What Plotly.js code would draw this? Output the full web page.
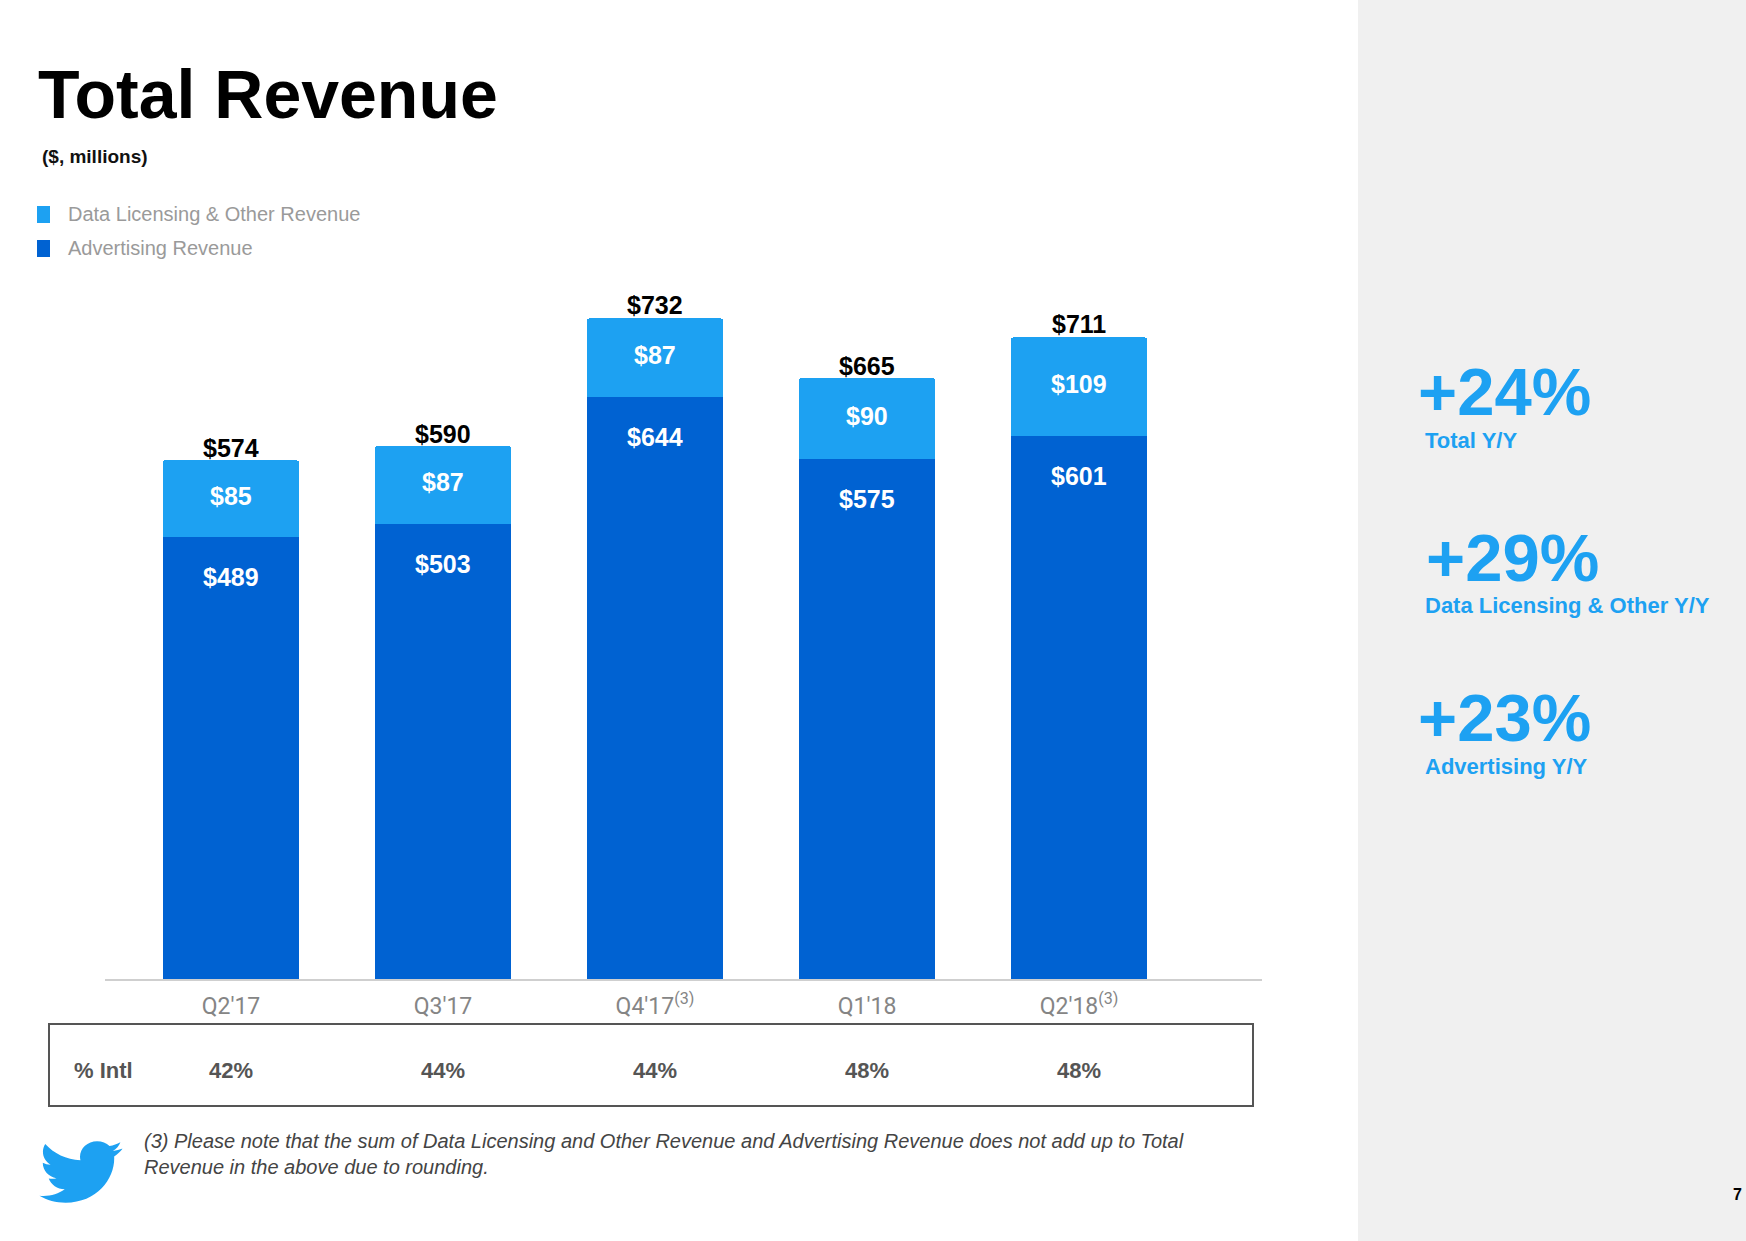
<!DOCTYPE html>
<html>
<head>
<meta charset="utf-8">
<script src="https://cdn.plot.ly/plotly-3.0.1.min.js"></script>
<style>
html,body{margin:0;padding:0;background:#fff;}
#chart{width:1746px;height:1241px;}
</style>
</head>
<body>
<div id="chart"></div>
<script>
// ---- Data ----
const categories = ["Q2'17", "Q3'17", "Q4'17", "Q1'18", "Q2'18"];
const tickLabels = ["Q2'17", "Q3'17", "Q4'17<sup>(3)</sup>", "Q1'18", "Q2'18<sup>(3)</sup>"];
const advertising = [489, 503, 644, 575, 601];
const dataLicensing = [85, 87, 87, 90, 109];
const totals = [574, 590, 732, 665, 711];
const intlShare = ["42%", "44%", "44%", "48%", "48%"];
const yoyValues = ["+24%", "+29%", "+23%"];
const yoyLabels = ["Total Y/Y", "Data Licensing & Other Y/Y", "Advertising Y/Y"];
const seriesNames = ["Data Licensing & Other Revenue", "Advertising Revenue"];

// ---- Layout helpers (pixel -> paper) ----
const W = 1746, H = 1241;
const M = {l: 105, r: 484, t: 256, b: 262};
const PW = W - M.l - M.r, PH = H - M.t - M.b;
const px = x => (x - M.l) / PW;
const py = y => (H - M.b - y) / PH;

const LIGHT = '#1da1f2';
const DARK = '#0062d2';
const FONT = 'Liberation Sans, Arial, sans-serif';

const traces = [
  {
    type: 'bar', x: categories, y: advertising, name: seriesNames[1],
    marker: {color: DARK}, hoverinfo: 'skip', showlegend: false
  },
  {
    type: 'bar', x: categories, y: dataLicensing, name: seriesNames[0],
    marker: {color: LIGHT, cornerradius: 3}, hoverinfo: 'skip', showlegend: false
  }
];

const annotations = [];
categories.forEach((c, i) => {
  annotations.push({x: c, y: totals[i], xref: 'x', yref: 'y', text: '<b>$' + totals[i] + '</b>',
    showarrow: false, yanchor: 'middle', yshift: 12,
    font: {family: FONT, size: 25, color: '#000'}});
  annotations.push({x: c, y: advertising[i] + dataLicensing[i] / 2, xref: 'x', yref: 'y',
    text: '<b>$' + dataLicensing[i] + '</b>', showarrow: false, yanchor: 'middle', yshift: 3,
    font: {family: FONT, size: 25, color: '#fff'}});
  annotations.push({x: c, y: advertising[i], xref: 'x', yref: 'y',
    text: '<b>$' + advertising[i] + '</b>', showarrow: false, yanchor: 'middle', yshift: -40,
    font: {family: FONT, size: 25, color: '#fff'}});
  annotations.push({x: c, y: py(1070), xref: 'x', yref: 'paper',
    text: '<b>' + intlShare[i] + '</b>', showarrow: false, yanchor: 'middle',
    font: {family: FONT, size: 22, color: '#555'}});
});
annotations.push({x: px(103), y: py(1070), xref: 'paper', yref: 'paper', text: '<b>% Intl</b>',
  showarrow: false, xanchor: 'center', yanchor: 'middle', font: {family: FONT, size: 22, color: '#555'}});

// subtitle
annotations.push({x: px(40), y: py(156), xref: 'paper', yref: 'paper', text: '<b>($, millions)</b>',
  showarrow: false, xanchor: 'left', yanchor: 'middle', font: {family: FONT, size: 19, color: '#111'}});

// legend (manual)
const legendY = [214, 248];
const legendColors = [LIGHT, DARK];
const shapes = [];
seriesNames.forEach((n, i) => {
  annotations.push({x: px(66), y: py(legendY[i]), xref: 'paper', yref: 'paper', text: n,
    showarrow: false, xanchor: 'left', yanchor: 'middle', font: {family: FONT, size: 20, color: '#9a9a9a'}});
  shapes.push({type: 'rect', xref: 'paper', yref: 'paper', x0: px(37), x1: px(50),
    y0: py(legendY[i] - 8), y1: py(legendY[i] + 9), fillcolor: legendColors[i], line: {width: 0}});
});

// right panel
shapes.push({type: 'rect', xref: 'paper', yref: 'paper', layer: 'below',
  x0: px(1358), x1: px(W + 2), y0: py(-2), y1: py(H + 2), fillcolor: '#f0f0f0', line: {width: 0}});
const yoyCenters = [391, 557, 717];
const yoyLabelY = [440, 605, 766];
const yoyX = [1416, 1424, 1416];
yoyValues.forEach((v, i) => {
  annotations.push({x: px(yoyX[i]), y: py(yoyCenters[i]), xref: 'paper', yref: 'paper', text: '<b>' + v + '</b>',
    showarrow: false, xanchor: 'left', yanchor: 'middle', font: {family: FONT, size: 67, color: LIGHT}});
  annotations.push({x: px(1423), y: py(yoyLabelY[i]), xref: 'paper', yref: 'paper', text: '<b>' + yoyLabels[i] + '</b>',
    showarrow: false, xanchor: 'left', yanchor: 'middle', font: {family: FONT, size: 22, color: LIGHT}});
});

// table box
shapes.push({type: 'rect', xref: 'paper', yref: 'paper', x0: px(49), x1: px(1253), y0: py(1024), y1: py(1106),
  line: {color: '#555', width: 2}, fillcolor: 'rgba(0,0,0,0)'});

// footnote
annotations.push({x: px(142), y: py(1154), xref: 'paper', yref: 'paper',
  text: '<i>(3) Please note that the sum of Data Licensing and Other Revenue and Advertising Revenue does not add up to Total<br>Revenue in the above due to rounding.</i>',
  showarrow: false, xanchor: 'left', yanchor: 'middle', align: 'left',
  font: {family: FONT, size: 20, color: '#444'}});

// page number
annotations.push({x: px(1737), y: py(1194), xref: 'paper', yref: 'paper', text: '<b>7</b>',
  showarrow: false, xanchor: 'center', yanchor: 'middle', font: {family: FONT, size: 16, color: '#000'}});

const bird = '<svg xmlns="http://www.w3.org/2000/svg" viewBox="0 0 24 24"><path fill="#1da1f2" d="M23.643 4.937c-.835.37-1.732.62-2.675.733.962-.576 1.7-1.49 2.048-2.578-.9.534-1.897.922-2.958 1.13-.85-.904-2.06-1.47-3.4-1.47-2.572 0-4.658 2.086-4.658 4.66 0 .364.042.718.12 1.06-3.873-.195-7.304-2.05-9.602-4.868-.4.69-.63 1.490-.63 2.342 0 1.616.823 3.043 2.072 3.878-.764-.025-1.482-.234-2.11-.583v.06c0 2.257 1.605 4.14 3.737 4.568-.392.106-.803.162-1.227.162-.3 0-.593-.028-.877-.082.593 1.85 2.313 3.198 4.352 3.234-1.595 1.25-3.604 1.995-5.786 1.995-.376 0-.747-.022-1.112-.065 2.062 1.323 4.51 2.093 7.14 2.093 8.57 0 13.255-7.098 13.255-13.254 0-.2-.005-.402-.014-.602.91-.658 1.7-1.477 2.323-2.41z"/></svg>';

const layout = {
  width: W, height: H,
  margin: M,
  paper_bgcolor: '#ffffff', plot_bgcolor: 'rgba(0,0,0,0)',
  barmode: 'stack', bargap: 0.358,
  showlegend: false,
  title: {text: '<b>Total Revenue</b>', xref: 'container', yref: 'container',
    x: 38 / W, xanchor: 'left', y: 1 - 94 / H, yanchor: 'middle',
    font: {family: FONT, size: 68, color: '#000'}},
  xaxis: {
    type: 'category', categoryorder: 'array', categoryarray: categories,
    range: [-0.594, 4.863], tickvals: categories, ticktext: tickLabels,
    showline: true, linecolor: '#cfcfcf', linewidth: 2, ticks: '', showgrid: false, zeroline: false,
    ticklabelstandoff: 5, fixedrange: true,
    tickfont: {family: 'Roboto, sans-serif', size: 23, color: '#858585'}
  },
  yaxis: {range: [0, 800], visible: false, showgrid: false, zeroline: false, fixedrange: true},
  annotations: annotations,
  shapes: shapes,
  images: [{source: 'data:image/svg+xml;charset=utf-8,' + encodeURIComponent(bird),
    xref: 'paper', yref: 'paper', x: px(36), y: py(1132), sizex: 88 / PW, sizey: 80 / PH,
    xanchor: 'left', yanchor: 'top', sizing: 'stretch', layer: 'above'}]
};

Plotly.newPlot('chart', traces, layout, {displayModeBar: false, staticPlot: true});
</script>
</body>
</html>
